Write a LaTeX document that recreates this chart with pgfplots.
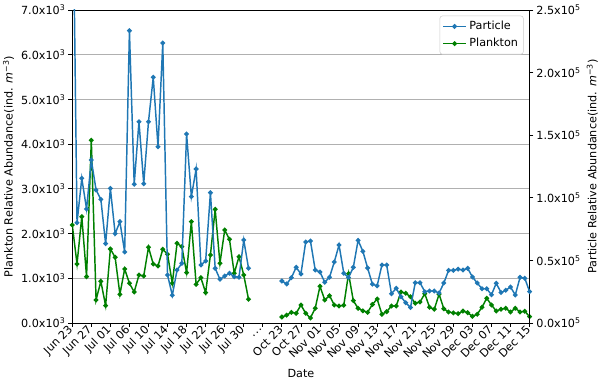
\documentclass[border=0pt]{standalone}
\usepackage{fontspec}
\setmainfont{DejaVu Sans}
\usepackage{pgfplots}
\pgfplotsset{compat=1.18}
\usepackage{pgfplotstable}
\definecolor{tabblue}{HTML}{1F77B4}
\definecolor{mplgreen}{HTML}{008000}
\definecolor{gridgray}{HTML}{B0B0B0}
\definecolor{legedge}{HTML}{CCCCCC}
\pgfplotstableread{
i plankton particle
0 2192 390000
1 1320 80110
2 2378 115570
3 1036 91050
4 4087 130190
5 515 106230
6 933 98800
7 387 63340
8 1655 107580
9 1470 71320
10 642 80910
11 1208 56710
12 888 233460
13 693 110780
14 1074 160780
15 1051 111260
16 1693 160780
17 1320 196240
18 1275 140810
19 1649 223640
20 1537 38340
21 888 22120
22 1783 42330
23 1707 47680
24 1125 150950
25 2266 100870
26 866 123000
27 1013 46320
28 678 49520
29 1521 104070
30 2543 43690
31 1335 34900
32 2080 37540
33 1872 39690
34 1112 36980
35 1483 36500
36 1074 66290
37 530 43690
40 nan nan
44 134 33545
45 174 31150
46 239 36180
47 217 44490
48 403 39140
49 217 64690
50 112 65490
51 329 42330
52 821 40730
53 515 32510
54 611 36500
55 403 48720
56 380 62300
57 398 39690
58 1103 36340
59 499 44490
60 329 66050
61 273 57270
62 239 43930
63 414 30990
64 537 29710
65 195 46320
66 253 46320
67 380 23400
68 380 27710
69 693 21010
70 664 16130
71 588 12380
72 441 32190
73 470 32190
74 655 25000
75 351 25560
76 309 25560
77 644 23960
78 318 31950
79 246 42090
80 224 42090
81 208 42970
82 268 42330
83 230 43690
84 150 36740
85 195 31950
86 351 27400
87 553 27320
88 403 22600
89 268 31710
90 309 24360
91 329 26120
92 246 28750
93 329 22360
94 246 36500
95 262 35700
96 141 25000
}\datatable

\begin{document}
\begin{tikzpicture}[font=\fontsize{8.4}{10}\selectfont]
\pgfplotsset{
  base/.style={
    scale only axis, width=343pt, height=234.75pt,
    xmin=0, xmax=96,
    tick align=outside,
    major tick length=2.9pt,
    every tick/.style={black, line width=0.6pt},
    axis line style={line width=0.6pt},
    unbounded coords=jump,
    clip=true,
  }
}
\begin{axis}[base, name=ax1,
  ymin=0, ymax=7000,
  ytick={0,1000,2000,3000,4000,5000,6000,7000},
  yticklabels={0.0x10\textsuperscript{3},1.0x10\textsuperscript{3},2.0x10\textsuperscript{3},3.0x10\textsuperscript{3},4.0x10\textsuperscript{3},5.0x10\textsuperscript{3},6.0x10\textsuperscript{3},7.0x10\textsuperscript{3}},
  xtick={0,4,8,12,16,20,24,28,32,36,40,44,48,52,56,60,64,68,72,76,80,84,88,92,96},
  xticklabels={Jun 23,Jun 27,Jul 01,Jul 06,Jul 10,Jul 14,Jul 18,Jul 22,Jul 26,Jul 30,{.\kern0.6pt.\kern0.6pt.},Oct 23,Oct 27,Nov 01,Nov 05,Nov 09,Nov 13,Nov 17,Nov 21,Nov 25,Nov 29,Dec 03,Dec 07,Dec 11,Dec 15},
  xtick pos=bottom, ytick pos=left,
  ymajorgrids, grid style={gridgray, line width=0.6pt},
  xticklabel style={rotate=45, anchor=east, inner sep=1pt},
  yticklabel style={inner sep=2pt},
  xlabel={Date},
  xlabel style={at={(axis description cs:0.5,-0.16)}, anchor=center},
  ylabel={Plankton Relative Abundance(ind. \textit{m}\textsuperscript{−3})},
  ylabel style={at={(axis description cs:-0.139,0.5)}, anchor=center},
]
\addplot[mplgreen, line width=1.1pt, mark=*, mark size=1.2pt] table[x=i, y=plankton] {\datatable};
\end{axis}
\begin{axis}[base, name=ax2,
  axis x line=none, axis y line*=right,
  ymin=0, ymax=250000,
  ytick={0,50000,100000,150000,200000,250000},
  scaled y ticks=false,
  yticklabels={0.0x10\textsuperscript{5},0.5x10\textsuperscript{5},1.0x10\textsuperscript{5},1.5x10\textsuperscript{5},2.0x10\textsuperscript{5},2.5x10\textsuperscript{5}},
  yticklabel style={inner sep=2pt},
  ylabel={Particle Relative Abundance(ind. \textit{m}\textsuperscript{−3})},
  ylabel style={at={(axis description cs:1.137,0.5)}, anchor=center},
  legend style={at={(0.987,0.982)}, anchor=north east, draw=legedge, rounded corners=2pt, fill=white, fill opacity=0.8, text opacity=1, inner sep=2pt, row sep=1pt},
  legend cell align=left,
]
\addplot[tabblue, line width=1.1pt, mark=*, mark size=1.2pt] table[x=i, y=particle] {\datatable};
\addlegendentry{Particle}
\addlegendimage{mplgreen, line width=1.1pt, mark=*, mark size=1.2pt}
\addlegendentry{Plankton}
\end{axis}
\pgfresetboundingbox
\path ([shift={(-54.2pt,-43.5pt)}]ax1.south west) rectangle ([shift={(395.8pt,242.25pt)}]ax1.south west);
\end{tikzpicture}
\end{document}
